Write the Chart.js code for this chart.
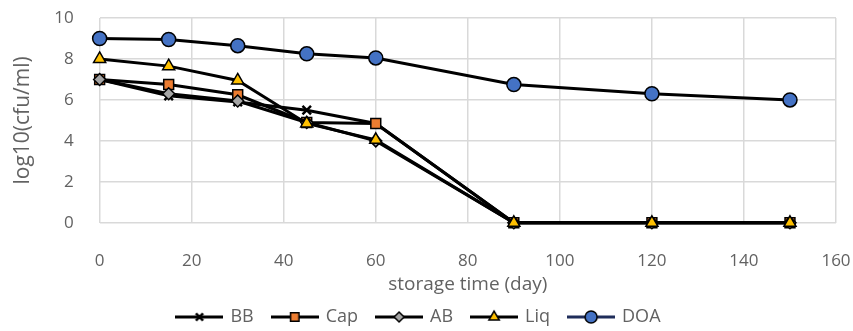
<!DOCTYPE html>
<html>
<head>
<meta charset="utf-8">
<script src="https://cdn.jsdelivr.net/npm/chart.js@4"></script>
<style>
  html, body { margin: 0; padding: 0; background: #fff; }
  #wrap { width: 853px; height: 331px; }
</style>
</head>
<body>
<div id="wrap"><canvas id="chart" width="853" height="331"></canvas></div>
<script>
// storage days
const days = [0, 15, 30, 45, 60, 90, 120, 150];

// log10(cfu/ml) per treatment
const bbValues  = [7.0, 6.2, 5.9, 5.5, 4.85, 0, 0, 0];
const capValues = [7.0, 6.75, 6.25, 4.9, 4.85, 0, 0, 0];
const abValues  = [7.0, 6.3, 5.95, 4.9, 4.0, 0, 0, 0];
const liqValues = [8.0, 7.65, 6.95, 4.85, 4.05, 0, 0, 0];
const doaValues = [9.0, 8.95, 8.65, 8.25, 8.05, 6.75, 6.3, 6.0];

const seriesNames = ['BB', 'Cap', 'AB', 'Liq', 'DOA'];
const xTicks = [0, 20, 40, 60, 80, 100, 120, 140, 160];
const yTicks = [0, 2, 4, 6, 8, 10];

const fontFamily = '"Open Sans", sans-serif';
const textGrey = '#626262';

// marker styles, Excel-like
const markerStyles = [
    { pointStyle: 'crossRot', radius: 6, fill: '#000000' },
    { pointStyle: 'rect', radius: 7, fill: '#ED7D31' },
    { pointStyle: 'rectRot', radius: 6, fill: '#A5A5A5' },
    { pointStyle: 'triangle', radius: 7, fill: '#FFC000' },
    { pointStyle: 'circle', radius: 7, fill: '#4472C4' }
];
const legendLineColors = ['#000000', '#000000', '#000000', '#000000', '#1F2D5A'];

// legend swatch: short line with the marker in the middle
function drawSwatch(style, lineColor) {
    const c = document.createElement('canvas');
    c.width = 48;
    c.height = 18;
    const ctx = c.getContext('2d');
    ctx.strokeStyle = lineColor;
    ctx.lineWidth = 3;
    ctx.beginPath();
    ctx.moveTo(0, 9);
    ctx.lineTo(48, 9);
    ctx.stroke();
    ctx.fillStyle = style.fill;
    ctx.strokeStyle = '#000000';
    ctx.lineWidth = style.pointStyle === 'crossRot' ? 2.5 : 1.5;
    Chart.helpers.drawPoint(ctx, {
        pointStyle: style.pointStyle,
        radius: style.radius - 1,
        borderWidth: ctx.lineWidth,
        rotation: 0
    }, 24, 9);
    return c;
}

const valueLists = [bbValues, capValues, abValues, liqValues, doaValues];

const datasets = seriesNames.map((name, i) => {
    const st = markerStyles[i];
    return {
        label: name,
        data: days.map((d, j) => ({ x: d, y: valueLists[i][j] })),
        borderColor: '#000000',
        borderWidth: 3,
        backgroundColor: st.fill,
        pointStyle: st.pointStyle,
        pointRadius: st.radius,
        pointHoverRadius: st.radius,
        pointBackgroundColor: st.fill,
        pointBorderColor: '#000000',
        pointBorderWidth: st.pointStyle === 'crossRot' ? 2.5 : 1.5,
        tension: 0,
        fill: false,
        clip: false,
        order: seriesNames.length - i,   // later series drawn on top
        swatch: drawSwatch(st, legendLineColors[i])
    };
});

new Chart(document.getElementById('chart'), {
    type: 'line',
    data: { datasets: datasets },
    options: {
        responsive: false,
        animation: false,
        devicePixelRatio: 1,
        layout: { padding: { left: 2, right: 17, top: 18, bottom: -5 } },
        plugins: {
            tooltip: { enabled: false },
            legend: {
                position: 'bottom',
                align: 'center',
                sort: (a, b) => a.datasetIndex - b.datasetIndex,
                labels: {
                    usePointStyle: true,
                    pointStyleWidth: 44,
                    padding: 19,
                    color: textGrey,
                    font: { family: fontFamily, size: 18 },
                    generateLabels: (chart) => chart.data.datasets.map((ds, i) => ({
                        text: ds.label,
                        datasetIndex: i,
                        pointStyle: ds.swatch,
                        fontColor: textGrey,
                        lineWidth: 0,
                        hidden: false
                    }))
                }
            }
        },
        scales: {
            x: {
                type: 'linear',
                min: 0,
                max: 160,
                afterBuildTicks: (axis) => { axis.ticks = xTicks.map(v => ({ value: v })); },
                ticks: { color: textGrey, font: { family: fontFamily, size: 17 }, padding: 0 },
                grid: { color: '#D9D9D9', lineWidth: 1.5, drawTicks: true, tickLength: 28, tickColor: 'rgba(0,0,0,0)' },
                border: { display: false },
                title: {
                    display: true,
                    text: 'storage time (day)',
                    color: textGrey,
                    font: { family: fontFamily, size: 19 },
                    padding: { top: 2, bottom: -7 }
                }
            },
            y: {
                type: 'linear',
                min: 0,
                max: 10,
                afterBuildTicks: (axis) => { axis.ticks = yTicks.map(v => ({ value: v })); },
                ticks: { color: textGrey, font: { family: fontFamily, size: 17 }, padding: 0 },
                grid: { color: '#D9D9D9', lineWidth: 1.5, drawTicks: true, tickLength: 26, tickColor: 'rgba(0,0,0,0)' },
                border: { display: false },
                title: {
                    display: true,
                    text: 'log10(cfu/ml)',
                    color: textGrey,
                    font: { family: fontFamily, size: 21 },
                    padding: { top: 8, bottom: 19 }
                }
            }
        }
    }
});
</script>
</body>
</html>
